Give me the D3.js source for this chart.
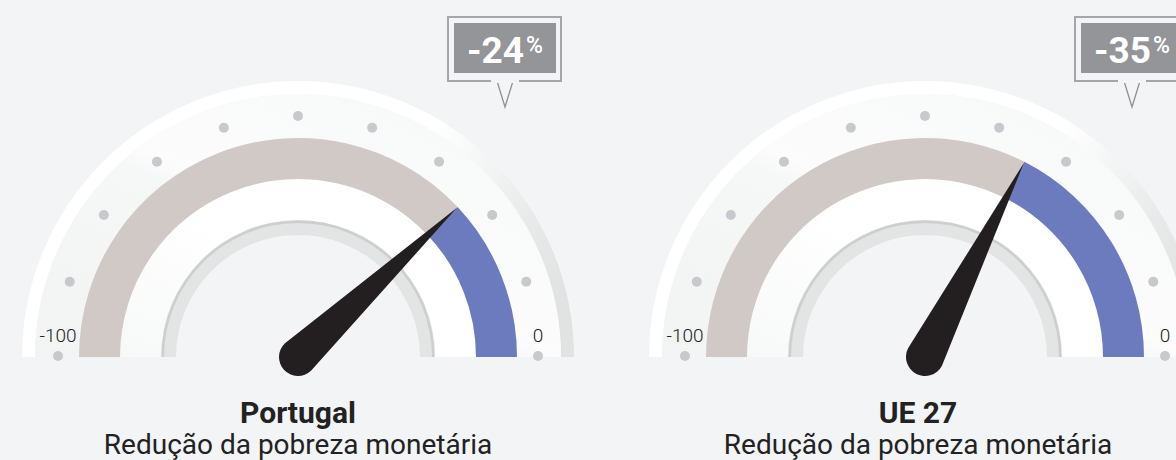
<!DOCTYPE html>
<html>
<head>
<meta charset="utf-8">
<script src="https://cdn.jsdelivr.net/npm/d3@7"></script>
<style>
  body { margin: 0; background: #f3f4f6; }
  svg { display: block; font-family: Roboto, "Noto Sans", sans-serif; }
</style>
</head>
<body>
<div id="chart"></div>
<script>
// data
var regions = ["Portugal", "UE 27"];
var values = [-24, -35];
var subtitle = "Redução da pobreza monetária";
var tickValues = [-100, -90, -80, -70, -60, -50, -40, -30, -20, -10, 0];
var endLabels = [-100, 0];

var width = 1176,
    height = 460;

var centersX = [298, 925],
    textX = [298, 918],
    cy = 357;

var svg = d3.select("#chart")
    .append("svg")
    .attr("width", width)
    .attr("height", height);

svg.append("rect")
    .attr("width", width)
    .attr("height", height)
    .attr("fill", "#f3f4f6");

var defs = svg.append("defs");

// shading for the outer rim (white left, grey right)
var rimGrad = defs.append("linearGradient")
    .attr("id", "rimGrad")
    .attr("x1", 0).attr("y1", 0.3).attr("x2", 1).attr("y2", 0.7);
rimGrad.append("stop").attr("offset", 0).attr("stop-color", "#ffffff");
rimGrad.append("stop").attr("offset", 0.6).attr("stop-color", "#ffffff");
rimGrad.append("stop").attr("offset", 0.85).attr("stop-color", "#e9eaea");
rimGrad.append("stop").attr("offset", 1).attr("stop-color", "#e1e2e2");

var faceGrad = defs.append("linearGradient")
    .attr("id", "faceGrad")
    .attr("x1", 0).attr("y1", 1).attr("x2", 1).attr("y2", 0);
faceGrad.append("stop").attr("offset", 0).attr("stop-color", "#f2f3f3");
faceGrad.append("stop").attr("offset", 0.45).attr("stop-color", "#f6f7f7");
faceGrad.append("stop").attr("offset", 0.5).attr("stop-color", "#fcfcfc");
faceGrad.append("stop").attr("offset", 0.8).attr("stop-color", "#f8f9f9");
faceGrad.append("stop").attr("offset", 1).attr("stop-color", "#f3f4f4");

var innerGrad = defs.append("linearGradient")
    .attr("id", "innerGrad")
    .attr("x1", 0).attr("y1", 1).attr("x2", 1).attr("y2", 0);
innerGrad.append("stop").attr("offset", 0).attr("stop-color", "#f7f8f8");
innerGrad.append("stop").attr("offset", 0.5).attr("stop-color", "#ffffff");
innerGrad.append("stop").attr("offset", 1).attr("stop-color", "#ffffff");

// -100 on the left, 0 on the right
var angle = d3.scaleLinear()
    .domain([-100, 0])
    .range([-Math.PI / 2, Math.PI / 2]);

var halfArc = function(r0, r1) {
    return d3.arc()
        .innerRadius(r0)
        .outerRadius(r1)
        .startAngle(-Math.PI / 2)
        .endAngle(Math.PI / 2)();
};

var bandArc = d3.arc()
    .innerRadius(178)
    .outerRadius(219);

regions.forEach(function(name, i) {
    var v = values[i];
    var g = svg.append("g")
        .attr("transform", "translate(" + centersX[i] + "," + cy + ")");

    // dial body
    g.append("path").attr("d", halfArc(263, 276)).attr("fill", "url(#rimGrad)");
    g.append("path").attr("d", halfArc(219, 263)).attr("fill", "url(#faceGrad)");
    g.append("path").attr("d", halfArc(137, 178)).attr("fill", "url(#innerGrad)");
    g.append("path").attr("d", halfArc(122, 137)).attr("fill", "#e3e4e4");
    g.append("path").attr("d", halfArc(134, 136.5)).attr("fill", "#cdcecf");

    // coloured band
    g.append("path")
        .attr("d", bandArc({startAngle: angle(-100), endAngle: angle(v)}))
        .attr("fill", "#d1c9c6");
    g.append("path")
        .attr("d", bandArc({startAngle: angle(v), endAngle: angle(0)}))
        .attr("fill", "#6c7bbd");

    // tick dots
    g.selectAll(".dot")
        .data(tickValues)
        .enter().append("circle")
        .attr("class", "dot")
        .attr("cx", function(d) { return 240 * Math.sin(angle(d)); })
        .attr("cy", function(d) { return -240 * Math.cos(angle(d)) - 1; })
        .attr("r", 5)
        .attr("fill", "#c8c9cc");

    g.selectAll(".endlabel")
        .data(endLabels)
        .enter().append("text")
        .attr("class", "endlabel")
        .attr("x", function(d) { return 240 * Math.sin(angle(d)); })
        .attr("y", -15)
        .attr("text-anchor", "middle")
        .attr("font-size", 19)
        .attr("font-weight", 300)
        .attr("fill", "#222")
        .text(function(d) { return d; });

    // needle
    var deg = angle(v) * 180 / Math.PI;
    g.append("path")
        .attr("transform", "rotate(" + deg + ")")
        .attr("d", "M-19,0 L0,-218 L19,0 A19,19 0 0,1 -19,0 Z")
        .attr("fill", "#231f20");

    // value callout
    var c = svg.append("g")
        .attr("transform", "translate(" + centersX[i] + ",0)");
    c.append("path")
        .attr("d", "M199,81 L207,107 L215,81")
        .attr("fill", "#f3f4f6")
        .attr("stroke", "#8f9194")
        .attr("stroke-width", 1.3);
    c.append("rect")
        .attr("x", 150).attr("y", 17)
        .attr("width", 113).attr("height", 64)
        .attr("fill", "#f3f4f6")
        .attr("stroke", "#a4a6a9")
        .attr("stroke-width", 2);
    c.append("rect")
        .attr("x", 193).attr("y", 80)
        .attr("width", 28).attr("height", 3)
        .attr("fill", "#f3f4f6");
    c.append("rect")
        .attr("x", 156).attr("y", 23)
        .attr("width", 102).attr("height", 50)
        .attr("fill", "#939598");
    var t = c.append("text")
        .attr("x", 207)
        .attr("y", 63)
        .attr("text-anchor", "middle")
        .attr("fill", "#ffffff")
        .attr("font-weight", 700);
    t.append("tspan").attr("font-size", 37).text(v);
    t.append("tspan").attr("font-size", 23).attr("font-weight", 500).attr("dx", 2).attr("dy", -10).text("%");

    // titles
    svg.append("text")
        .attr("x", textX[i])
        .attr("y", 423)
        .attr("text-anchor", "middle")
        .attr("font-size", 30)
        .attr("font-weight", 700)
        .attr("fill", "#222")
        .text(name);
    svg.append("text")
        .attr("x", textX[i])
        .attr("y", 454)
        .attr("text-anchor", "middle")
        .attr("font-size", 28)
        .attr("fill", "#222")
        .text(subtitle);
});
</script>
</body>
</html>
